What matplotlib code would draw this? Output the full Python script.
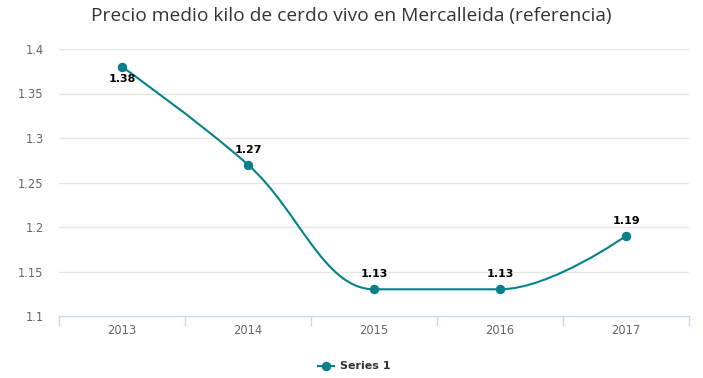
import matplotlib
matplotlib.use("Agg")
import matplotlib.pyplot as plt
import matplotlib.transforms as mtransforms
from matplotlib.path import Path
import matplotlib.patches as patches
from matplotlib.lines import Line2D

years = ["2013", "2014", "2015", "2016", "2017"]
precio = [1.38, 1.27, 1.13, 1.13, 1.19]
y_ticks = [1.1, 1.15, 1.2, 1.25, 1.3, 1.35, 1.4]
y_tick_labels = ["1.1", "1.15", "1.2", "1.25", "1.3", "1.35", "1.4"]
title = "Precio medio kilo de cerdo vivo en Mercalleida (referencia)"
series_name = "Series 1"

TEAL = "#06818b"
W, H = 703, 378


def spline_path(xs, ys, smoothing=1.5):
    # Highcharts-style spline: cubic segments with control points per point
    n = len(xs)
    right = [None] * n
    left = [None] * n
    denom = smoothing + 1
    for i in range(1, n - 1):
        px, py = xs[i], ys[i]
        lx, ly = xs[i - 1], ys[i - 1]
        nx, ny = xs[i + 1], ys[i + 1]
        lcx = (smoothing * px + lx) / denom
        lcy = (smoothing * py + ly) / denom
        rcx = (smoothing * px + nx) / denom
        rcy = (smoothing * py + ny) / denom
        if rcx != lcx:
            corr = (rcy - lcy) * (rcx - px) / (rcx - lcx) + py - rcy
            lcy += corr
            rcy += corr
        if lcy > ly and lcy > py:
            lcy = max(ly, py)
            rcy = 2 * py - lcy
        elif lcy < ly and lcy < py:
            lcy = min(ly, py)
            rcy = 2 * py - lcy
        if rcy > ny and rcy > py:
            rcy = max(ny, py)
            lcy = 2 * py - rcy
        elif rcy < ny and rcy < py:
            rcy = min(ny, py)
            lcy = 2 * py - rcy
        left[i] = (lcx, lcy)
        right[i] = (rcx, rcy)
    verts = [(xs[0], ys[0])]
    codes = [Path.MOVETO]
    for i in range(1, n):
        c1 = right[i - 1] or (xs[i - 1], ys[i - 1])
        c2 = left[i] or (xs[i], ys[i])
        verts += [c1, c2, (xs[i], ys[i])]
        codes += [Path.CURVE4] * 3
    return Path(verts, codes)


fig = plt.figure(figsize=(W / 100, H / 100), dpi=100)
ax = fig.add_axes([59 / W, (H - 316) / H, 630 / W, 267 / H])

xs = list(range(len(years)))
ax.set_xlim(-0.5, len(years) - 0.5)
ax.set_ylim(1.1, 1.4)

for yt in y_ticks[1:]:
    ax.axhline(yt, color="#e6e6e6", lw=1, zorder=0)

ax.add_patch(patches.PathPatch(spline_path(xs, precio), facecolor="none",
                               edgecolor=TEAL, lw=1.5, zorder=3, capstyle="round"))
ax.plot(xs, precio, "o", color=TEAL, ms=5.8, zorder=4)

# data labels (first one sits below the point, like the reference)
for i, v in enumerate(precio):
    dy = -12 if i == 0 else 15
    ax.annotate(f"{v:.2f}", (xs[i], v), xytext=(0, dy), textcoords="offset pixels",
                ha="center", va="center", fontsize=8, fontweight="bold",
                color="black", zorder=5)

for s in ["top", "right", "left"]:
    ax.spines[s].set_visible(False)
ax.spines["bottom"].set_color("#ccd6eb")
ax.spines["bottom"].set_linewidth(1)

# ticks on category boundaries, labels centred on categories
ax.set_xticks([x - 0.5 for x in xs] + [xs[-1] + 0.5])
ax.set_xticklabels([])
ax.tick_params(axis="x", length=7.2, color="#ccd6eb", width=1)
lab_tr = ax.get_xaxis_transform() + mtransforms.ScaledTranslation(0, -14 / 100, fig.dpi_scale_trans)
for i, yr in enumerate(years):
    ax.text(xs[i], 0, yr, transform=lab_tr, ha="center", va="center",
            fontsize=8.3, color="#666666")

ax.set_yticks(y_ticks)
ax.set_yticklabels(y_tick_labels, fontsize=8.3, color="#666666")
ax.tick_params(axis="y", length=0, pad=11)

fig.text(0.5, 1 - 16 / H, title, ha="center", va="center", fontsize=13.8,
         color="#333333", family="Open Sans")

# legend
ly = 1 - 366 / H
fig.add_artist(Line2D([318 / W, 334 / W], [ly, ly], color=TEAL, lw=1.5,
                      transform=fig.transFigure))
fig.add_artist(Line2D([326 / W], [ly], marker="o", color=TEAL, ms=5.8,
                      transform=fig.transFigure))
fig.text(340 / W, ly, series_name, ha="left", va="center", fontsize=8,
         fontweight="bold", color="#333333")

fig.savefig("out.png", dpi=100)
